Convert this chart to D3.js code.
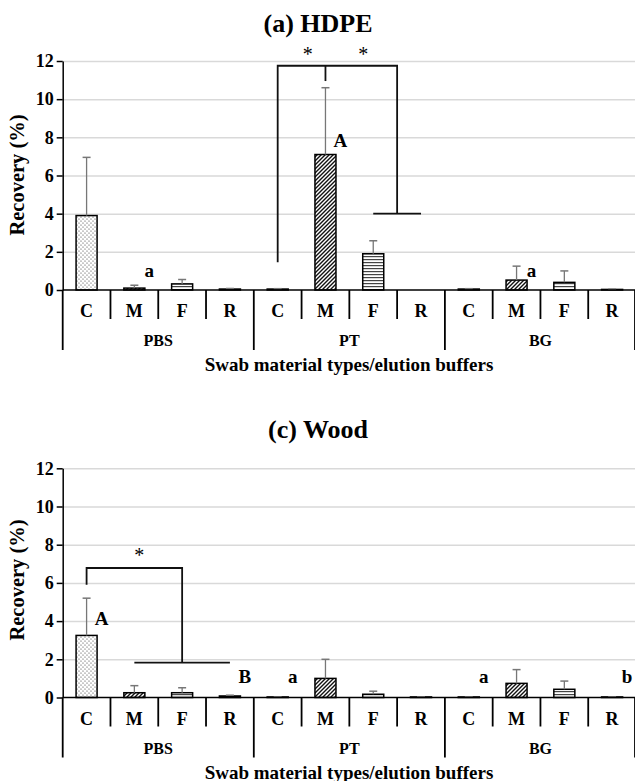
<!DOCTYPE html>
<html>
<head>
<meta charset="utf-8">
<script src="https://cdn.jsdelivr.net/npm/d3@7"></script>
<style>
  body { margin: 0; background: #fff; }
  svg text { font-family: "Liberation Serif", "Times New Roman", serif; font-weight: bold; fill: #000; }
</style>
</head>
<body>
<div id="chart"></div>
<script>
// categories
const buffers = ["PBS", "PT", "BG"];
const swabs = ["C", "M", "F", "R"];
const yTicks = [0, 2, 4, 6, 8, 10, 12];

// (a) HDPE recovery (%) mean and SD, ordered PBS C,M,F,R / PT C,M,F,R / BG C,M,F,R
const hdpeMean = [3.9, 0.1, 0.32, 0.05, 0.05, 7.1, 1.9, 0, 0.05, 0.52, 0.4, 0.03];
const hdpeSd   = [3.05, 0.15, 0.23, 0.03, 0.02, 3.5, 0.68, 0, 0.02, 0.73, 0.6, 0.01];

// (c) Wood
const woodMean = [3.25, 0.25, 0.25, 0.08, 0.03, 1.0, 0.17, 0.03, 0.03, 0.74, 0.43, 0.03];
const woodSd   = [1.95, 0.37, 0.26, 0.04, 0.01, 1.0, 0.16, 0.01, 0.01, 0.72, 0.43, 0.01];

// letters: [category index, y value, text]
const hdpeLetters = [[1, 0.68, "a"], [5, 7.5, "A"], [9, 0.68, "a"]];
const woodLetters = [[0, 3.8, "A"], [3, 0.76, "B"], [4, 0.76, "a"], [8, 0.76, "a"], [11, 0.76, "b"]];

let size = {width: 635, height: 781};
let svg = d3.select('#chart').append('svg')
  .attr('width', size.width).attr('height', size.height);

let defs = svg.append('defs');
// dotted fill (C)
let pDot = defs.append('pattern').attr('id', 'pDot').attr('patternUnits', 'userSpaceOnUse')
  .attr('width', 4).attr('height', 4);
pDot.append('rect').attr('width', 4).attr('height', 4).attr('fill', '#fff');
pDot.append('circle').attr('cx', 1).attr('cy', 1).attr('r', 0.6).attr('fill', '#333');
pDot.append('circle').attr('cx', 3).attr('cy', 3).attr('r', 0.6).attr('fill', '#333');
// diagonal hatch (M)
let pDiag = defs.append('pattern').attr('id', 'pDiag').attr('patternUnits', 'userSpaceOnUse')
  .attr('width', 4).attr('height', 4);
pDiag.append('rect').attr('width', 4).attr('height', 4).attr('fill', '#fff');
pDiag.append('path').attr('d', 'M-1,1 l2,-2 M0,4 l4,-4 M3,5 l2,-2')
  .attr('stroke', '#111').attr('stroke-width', 1.4);
// horizontal lines (F)
let pHor = defs.append('pattern').attr('id', 'pHor').attr('patternUnits', 'userSpaceOnUse')
  .attr('width', 4).attr('height', 3);
pHor.append('rect').attr('width', 4).attr('height', 3).attr('fill', '#fff');
pHor.append('rect').attr('y', 1).attr('width', 4).attr('height', 1.2).attr('fill', '#444');

let fills = {C: 'url(#pDot)', M: 'url(#pDiag)', F: 'url(#pHor)', R: '#333'};

let cats = [];
buffers.forEach(function(b){
  swabs.forEach(function(s){ cats.push({buffer: b, swab: s, id: b + '-' + s}); });
});

let x = d3.scaleBand().domain(cats.map(d => d.id)).range([62.7, 636]).padding(0);
let bw = x.bandwidth();
function cx(i){ return x(cats[i].id) + bw / 2; }
function xi(v){ return x.range()[0] + (v + 0.5) * bw; }

function drawPanel(opts){
  let y = d3.scaleLinear().domain([0, 12]).range([opts.y0, opts.y12]);
  let g = svg.append('g');

  // title
  g.append('text').attr('x', 318).attr('y', opts.titleY)
    .attr('text-anchor', 'middle').style('font-size', '26px').text(opts.title);

  // grid
  g.append('g').attr('transform', 'translate(62.7,0)')
    .call(d3.axisRight(y).tickValues(yTicks.slice(1)).tickSize(636 - 62.7).tickFormat(''))
    .call(a => a.select('.domain').remove())
    .call(a => a.selectAll('line').attr('stroke', '#d9d9d9').attr('stroke-width', 1.5));

  // y axis
  g.append('g').attr('transform', 'translate(62.7,0)')
    .call(d3.axisLeft(y).tickValues(yTicks).tickSize(6).tickPadding(3).tickSizeOuter(0))
    .call(a => a.select('.domain').attr('stroke', '#000').attr('stroke-width', 1.5))
    .call(a => a.selectAll('line').attr('stroke', '#000').attr('stroke-width', 1.5))
    .call(a => a.selectAll('text').style('font-size', '18px')
      .style('font-family', '"Liberation Serif", serif').style('font-weight', 'bold'));

  g.append('text').attr('transform', 'translate(17,' + opts.labelY + ') rotate(-90)')
    .attr('text-anchor', 'middle').attr('dy', '0.35em').style('font-size', '20.5px')
    .text('Recovery (%)');

  // bars
  let data = opts.mean.map((m, i) => ({cat: cats[i], i: i, m: m, sd: opts.sd[i]}));
  let bx = bw * 0.28, bwid = bw * 0.44;
  g.selectAll('rect.bar').data(data.filter(d => d.m > 0)).enter().append('rect')
    .attr('class', 'bar')
    .attr('x', d => x(d.cat.id) + bx)
    .attr('width', bwid)
    .attr('y', d => y(d.m))
    .attr('height', d => y(0) - y(d.m))
    .attr('fill', d => fills[d.cat.swab])
    .attr('stroke', '#000').attr('stroke-width', 1.5);

  // error bars
  let eb = g.selectAll('g.err').data(data.filter(d => d.sd > 0)).enter().append('g');
  eb.append('line')
    .attr('x1', d => cx(d.i)).attr('x2', d => cx(d.i))
    .attr('y1', d => y(d.m)).attr('y2', d => y(d.m + d.sd))
    .attr('stroke', '#777').attr('stroke-width', 1.3);
  eb.append('line')
    .attr('x1', d => cx(d.i) - 4).attr('x2', d => cx(d.i) + 4)
    .attr('y1', d => y(d.m + d.sd)).attr('y2', d => y(d.m + d.sd))
    .attr('stroke', '#777').attr('stroke-width', 1.5);

  // x axis
  g.append('line').attr('x1', 62.7).attr('x2', 636).attr('y1', y(0)).attr('y2', y(0))
    .attr('stroke', '#000').attr('stroke-width', 1.5);
  cats.forEach(function(c, i){
    let left = x(c.id);
    let groupEdge = i % 4 === 0;
    g.append('line').attr('x1', left).attr('x2', left)
      .attr('y1', y(0)).attr('y2', y(0) + (groupEdge ? 60 : 29))
      .attr('stroke', '#000').attr('stroke-width', 1.8);
    g.append('text').attr('x', left + bw / 2).attr('y', y(0) + 27)
      .attr('text-anchor', 'middle').style('font-size', '18px').text(c.swab);
  });
  g.append('line').attr('x1', 635).attr('x2', 635)
    .attr('y1', y(0)).attr('y2', y(0) + 60).attr('stroke', '#000').attr('stroke-width', 1.8);
  buffers.forEach(function(b, k){
    let mid = x(cats[k * 4].id) + bw * 2;
    g.append('text').attr('x', mid).attr('y', y(0) + 56)
      .attr('text-anchor', 'middle').style('font-size', '16px').text(b);
  });
  g.append('text').attr('x', 349).attr('y', y(0) + 81)
    .attr('text-anchor', 'middle').style('font-size', '19px')
    .text('Swab material types/elution buffers');

  // letters
  opts.letters.forEach(function(l){
    g.append('text').attr('x', cx(l[0]) + 15).attr('y', y(l[1]))
      .attr('text-anchor', 'middle').style('font-size', '19px').text(l[2]);
  });

  // significance brackets
  let line = d3.line().x(d => xi(d[0])).y(d => y(d[1]));
  opts.brackets.forEach(function(b){
    g.append('path').attr('d', line(b)).attr('fill', 'none')
      .attr('stroke', '#111').attr('stroke-width', 1.8);
  });
  opts.stars.forEach(function(s){
    g.append('text').attr('x', xi(s[0])).attr('y', y(s[1]) + 11)
      .attr('text-anchor', 'middle').style('font-size', '20px').style('font-weight', 'normal').text('*');
  });
}

drawPanel({
  title: '(a) HDPE', titleY: 31.5, y0: 290, y12: 61, labelY: 175,
  mean: hdpeMean, sd: hdpeSd, letters: hdpeLetters,
  brackets: [
    [[4, 1.45], [4, 11.75], [6.5, 11.75], [6.5, 4]],
    [[6, 4], [7, 4]],
    [[5, 11.75], [5, 10.95]]
  ],
  stars: [[4.63, 12.58], [5.79, 12.58]]
});

drawPanel({
  title: '(c) Wood', titleY: 438, y0: 697.5, y12: 468.3, labelY: 580,
  mean: woodMean, sd: woodSd, letters: woodLetters,
  brackets: [
    [[0, 5.9], [0, 6.78], [2, 6.78], [2, 1.83]],
    [[1, 1.83], [3, 1.83]]
  ],
  stars: [[1.1, 7.65]]
});
</script>
</body>
</html>
